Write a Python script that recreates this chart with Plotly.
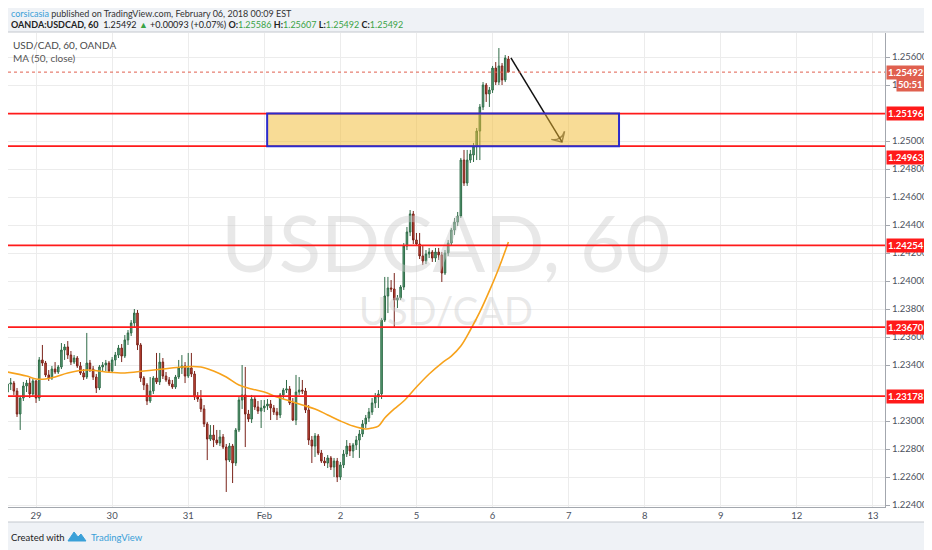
import plotly.graph_objects as go

# the page puts the plot 8px in from the top-left corner, so the figure is
# sized to fill the rest of the 932x550 window
OFF = 8
W, H = 932 - OFF, 550 - OFF
M_L, M_R, M_T, M_B = 0, 47, 25, 43
PW, PH = W - M_L - M_R, H - M_T - M_B


def paper_x(px):
    # px measured on the reference snapshot
    return (px - OFF - M_L) / PW


def paper_y(py):
    return (H - M_B - (py - OFF)) / PH


# hourly bars, counted from Jan 29 00:00 (weekend hours skipped)
bars = list(range(-9, 150))

opens = [
    1.23207, 1.23264, 1.23271, 1.23214, 1.23050, 1.23164, 1.23250, 1.23271, 1.23193, 1.23286,
    1.23164, 1.23436, 1.23414, 1.23329, 1.23307, 1.23371, 1.23350, 1.23386, 1.23507, 1.23529,
    1.23471, 1.23421, 1.23450, 1.23393, 1.23343, 1.23314, 1.23414, 1.23371, 1.23314, 1.23236,
    1.23386, 1.23400, 1.23414, 1.23357, 1.23436, 1.23471, 1.23521, 1.23464, 1.23579, 1.23629,
    1.23700, 1.23771, 1.23543, 1.23307, 1.23257, 1.23143, 1.23214, 1.23307, 1.23279, 1.23421,
    1.23321, 1.23293, 1.23264, 1.23243, 1.23314, 1.23379, 1.23393, 1.23321, 1.23379, 1.23336,
    1.23171, 1.23157, 1.23086, 1.22979, 1.22871, 1.22900, 1.22864, 1.22843, 1.22886, 1.22814,
    1.22721, 1.22821, 1.22700, 1.22936, 1.23150, 1.23186, 1.23050, 1.23014, 1.23157, 1.23100,
    1.23071, 1.23093, 1.23107, 1.23121, 1.23093, 1.23064, 1.23043, 1.23186, 1.23221, 1.23229,
    1.23129, 1.23007, 1.23207, 1.23221, 1.23214, 1.23079, 1.22864, 1.22821, 1.22893, 1.22771,
    1.22714, 1.22700, 1.22736, 1.22671, 1.22714, 1.22600, 1.22686, 1.22764, 1.22821, 1.22786,
    1.22829, 1.22864, 1.22907, 1.22979, 1.23021, 1.23064, 1.23129, 1.23171, 1.23193, 1.23721,
    1.23893, 1.23950, 1.23943, 1.23864, 1.23879, 1.23957, 1.24250, 1.24350, 1.24479, 1.24293,
    1.24264, 1.24179, 1.24143, 1.24193, 1.24207, 1.24164, 1.24207, 1.24186, 1.24057, 1.24200,
    1.24271, 1.24364, 1.24421, 1.24464, 1.24864, 1.24700, 1.24864, 1.24900, 1.24964, 1.25071,
    1.25243, 1.25400, 1.25336, 1.25364, 1.25521, 1.25421, 1.25536, 1.25436, 1.25586,
]
highs = [
    1.23314, 1.23307, 1.23286, 1.23236, 1.23179, 1.23279, 1.23293, 1.23307, 1.23300, 1.23293,
    1.23457, 1.23543, 1.23429, 1.23364, 1.23393, 1.23421, 1.23400, 1.23557, 1.23550, 1.23571,
    1.23500, 1.23471, 1.23464, 1.23421, 1.23371, 1.23629, 1.23436, 1.23393, 1.23336, 1.23400,
    1.23421, 1.23436, 1.23429, 1.23457, 1.23493, 1.23543, 1.23550, 1.23614, 1.23650, 1.23721,
    1.23800, 1.23793, 1.23557, 1.23321, 1.23271, 1.23314, 1.23321, 1.23486, 1.23486, 1.23450,
    1.23350, 1.23314, 1.23293, 1.23329, 1.23436, 1.23471, 1.23421, 1.23486, 1.23486, 1.23357,
    1.23207, 1.23221, 1.23114, 1.22993, 1.22971, 1.22971, 1.22936, 1.22936, 1.22907, 1.22836,
    1.22843, 1.22836, 1.22950, 1.23171, 1.23400, 1.23386, 1.23079, 1.23186, 1.23179, 1.23143,
    1.23150, 1.23150, 1.23157, 1.23150, 1.23114, 1.23093, 1.23200, 1.23236, 1.23293, 1.23250,
    1.23164, 1.23329, 1.23314, 1.23293, 1.23236, 1.23114, 1.22893, 1.22914, 1.22907, 1.22793,
    1.22743, 1.22757, 1.22750, 1.22736, 1.22736, 1.22707, 1.22793, 1.22864, 1.22843, 1.22843,
    1.22893, 1.22936, 1.23007, 1.23043, 1.23093, 1.23164, 1.23200, 1.23221, 1.23736, 1.24029,
    1.24029, 1.24007, 1.24057, 1.23900, 1.23971, 1.24271, 1.24386, 1.24507, 1.24500, 1.24343,
    1.24343, 1.24257, 1.24221, 1.24236, 1.24221, 1.24236, 1.24236, 1.24207, 1.24221, 1.24293,
    1.24379, 1.24450, 1.24493, 1.24879, 1.24936, 1.24936, 1.24936, 1.24986, 1.25093, 1.25264,
    1.25421, 1.25414, 1.25386, 1.25536, 1.25564, 1.25664, 1.25557, 1.25614, 1.25607,
]
lows = [
    1.23179, 1.23221, 1.23186, 1.23029, 1.22936, 1.23143, 1.23207, 1.23164, 1.23179, 1.23129,
    1.23143, 1.23393, 1.23314, 1.23286, 1.23293, 1.23336, 1.23336, 1.23371, 1.23436, 1.23443,
    1.23400, 1.23407, 1.23379, 1.23329, 1.23293, 1.23300, 1.23350, 1.23293, 1.23200, 1.23221,
    1.23350, 1.23357, 1.23343, 1.23343, 1.23393, 1.23450, 1.23421, 1.23450, 1.23543, 1.23607,
    1.23671, 1.23507, 1.23279, 1.23221, 1.23114, 1.23129, 1.23193, 1.23264, 1.23257, 1.23300,
    1.23279, 1.23250, 1.23229, 1.23229, 1.23300, 1.23336, 1.23271, 1.23307, 1.23314, 1.23150,
    1.23136, 1.23064, 1.22957, 1.22721, 1.22857, 1.22814, 1.22829, 1.22821, 1.22800, 1.22493,
    1.22707, 1.22557, 1.22679, 1.22921, 1.23086, 1.22814, 1.22993, 1.22986, 1.23079, 1.23050,
    1.22950, 1.23064, 1.23079, 1.23007, 1.23043, 1.23007, 1.23021, 1.23157, 1.23200, 1.23114,
    1.23000, 1.22971, 1.23186, 1.23193, 1.23057, 1.22829, 1.22700, 1.22743, 1.22757, 1.22700,
    1.22679, 1.22664, 1.22650, 1.22600, 1.22564, 1.22579, 1.22664, 1.22743, 1.22750, 1.22736,
    1.22793, 1.22736, 1.22886, 1.22950, 1.22993, 1.23043, 1.23093, 1.23093, 1.23157, 1.23707,
    1.23771, 1.23921, 1.23671, 1.23807, 1.23864, 1.23936, 1.24221, 1.24321, 1.24264, 1.24250,
    1.24157, 1.24114, 1.24121, 1.24164, 1.24136, 1.24136, 1.24150, 1.23993, 1.24043, 1.24179,
    1.24250, 1.24329, 1.24393, 1.24450, 1.24679, 1.24679, 1.24843, 1.24850, 1.24864, 1.24864,
    1.25221, 1.25279, 1.25243, 1.25343, 1.25400, 1.25400, 1.25400, 1.25421, 1.25492,
]
closes = [
    1.23264, 1.23271, 1.23214, 1.23050, 1.23164, 1.23250, 1.23271, 1.23193, 1.23286, 1.23164,
    1.23436, 1.23414, 1.23329, 1.23307, 1.23371, 1.23350, 1.23386, 1.23507, 1.23529, 1.23471,
    1.23421, 1.23450, 1.23393, 1.23343, 1.23314, 1.23414, 1.23371, 1.23314, 1.23236, 1.23386,
    1.23400, 1.23414, 1.23357, 1.23436, 1.23471, 1.23521, 1.23464, 1.23579, 1.23629, 1.23700,
    1.23771, 1.23543, 1.23307, 1.23257, 1.23143, 1.23214, 1.23307, 1.23279, 1.23421, 1.23321,
    1.23293, 1.23264, 1.23243, 1.23314, 1.23379, 1.23393, 1.23321, 1.23379, 1.23336, 1.23171,
    1.23157, 1.23086, 1.22979, 1.22871, 1.22900, 1.22864, 1.22843, 1.22886, 1.22814, 1.22721,
    1.22821, 1.22700, 1.22936, 1.23150, 1.23186, 1.23050, 1.23014, 1.23157, 1.23100, 1.23071,
    1.23093, 1.23107, 1.23121, 1.23093, 1.23064, 1.23043, 1.23186, 1.23221, 1.23229, 1.23129,
    1.23007, 1.23207, 1.23221, 1.23214, 1.23079, 1.22864, 1.22821, 1.22893, 1.22771, 1.22714,
    1.22700, 1.22736, 1.22671, 1.22714, 1.22600, 1.22686, 1.22764, 1.22821, 1.22786, 1.22829,
    1.22864, 1.22907, 1.22979, 1.23021, 1.23064, 1.23129, 1.23171, 1.23193, 1.23721, 1.23893,
    1.23950, 1.23943, 1.23864, 1.23879, 1.23957, 1.24250, 1.24350, 1.24479, 1.24293, 1.24264,
    1.24179, 1.24143, 1.24193, 1.24207, 1.24164, 1.24207, 1.24186, 1.24057, 1.24200, 1.24271,
    1.24364, 1.24421, 1.24464, 1.24864, 1.24700, 1.24864, 1.24907, 1.24964, 1.25071, 1.25243,
    1.25400, 1.25336, 1.25364, 1.25521, 1.25421, 1.25536, 1.25436, 1.25593, 1.25492,
]

# MA (50, close)
ma_bars = [-9, -3, 0, 3, 6, 10, 16, 22, 28, 34, 40, 46, 52, 56, 60, 64, 68, 72, 76, 80,
           84, 88, 92, 96, 100, 104, 106, 108, 110, 113, 116, 120, 124, 128, 131, 134,
           137, 140, 143, 146, 149]
ma_values = [1.23350, 1.23321, 1.23300, 1.23300, 1.23314, 1.23343, 1.23364, 1.23350, 1.23343,
             1.23357, 1.23371, 1.23386, 1.23386, 1.23357, 1.23314, 1.23257, 1.23229, 1.23207,
             1.23171, 1.23143, 1.23114, 1.23086, 1.23043, 1.23000, 1.22964, 1.22943, 1.22950,
             1.22964, 1.23021, 1.23086, 1.23143, 1.23243, 1.23336, 1.23414, 1.23464, 1.23536,
             1.23650, 1.23779, 1.23929, 1.24093, 1.24279]

day_ticks = [0, 24, 48, 72, 96, 120, 144, 168, 192, 216, 240, 264]
day_labels = ['29', '30', '31', 'Feb', '2', '5', '6', '7', '8', '9', '12', '13']
# 1.252 and 1.232 sit right under the level labels, so the chart hides them
price_ticks = [1.224, 1.226, 1.228, 1.230, 1.234, 1.236, 1.238, 1.240,
               1.242, 1.244, 1.246, 1.248, 1.250, 1.254, 1.256]

levels = [1.25196, 1.24963, 1.24254, 1.23670, 1.23178]
level_label_shift = [0, -11, 0, 0, 0]
zone_bars = [72.9, 183.9]
zone_prices = [1.24963, 1.25196]
arrow_bars = [149.8, 165.9]
arrow_prices = [1.25593, 1.24993]
last_price = 1.25492

x_range = [-8.85, 267.8]
y_range = [1.223857, 1.257714]

FONT = 'Lato, Roboto, sans-serif'
GRID = '#ececec'
AXIS = '#a3a7ae'
TEXT = '#4c525e'

fig = go.Figure()

# watermark sits under the candles
fig.add_trace(go.Scatter(
    x=[129.3, 129.3], y=[1.24207, 1.23757], mode='text',
    text=['USDCAD, 60', 'USD/CAD'],
    textfont=dict(family=FONT, size=[78, 38], color='rgba(205,205,205,0.45)'),
    hoverinfo='skip', showlegend=False))

fig.add_trace(go.Scatter(
    x=arrow_bars, y=arrow_prices, mode='lines+markers',
    line=dict(color='#111111', width=1.5),
    marker=dict(symbol='arrow-wide-open', size=[0, 11], angleref='previous',
                color='#111111', line=dict(color='#111111', width=1.5)),
    hoverinfo='skip', showlegend=False))

fig.add_trace(go.Candlestick(
    x=bars, open=opens, high=highs, low=lows, close=closes,
    increasing=dict(line=dict(color='#2f6b47', width=1), fillcolor='#5aa37a'),
    decreasing=dict(line=dict(color='#7a231a', width=1), fillcolor='#cf4a3a'),
    whiskerwidth=0, showlegend=False, name='USD/CAD'))

fig.add_trace(go.Scatter(
    x=ma_bars, y=ma_values, mode='lines', line=dict(color='#f7a21b', width=1.6, shape='spline'),
    hoverinfo='skip', showlegend=False, name='MA (50, close)'))

shapes = [
    # white chart frame
    dict(type='rect', xref='paper', yref='paper', x0=paper_x(4), x1=paper_x(926),
         y0=paper_y(522), y1=paper_y(32), fillcolor='white',
         line=dict(color='#c4c8ce', width=1), layer='below'),
    dict(type='line', xref='paper', yref='y', x0=0, x1=1, y0=last_price, y1=last_price,
         line=dict(color='#e0604f', width=1, dash='dot')),
]
for lv in levels:
    shapes.append(dict(type='line', xref='paper', yref='y', x0=0, x1=1, y0=lv, y1=lv,
                       line=dict(color='#ff1a1a', width=1.8)))
shapes.append(dict(type='rect', xref='x', yref='y', x0=zone_bars[0], x1=zone_bars[1],
                   y0=zone_prices[0], y1=zone_prices[1],
                   fillcolor='rgba(241,185,45,0.5)', line=dict(color='#2b2bcc', width=2)))

# small blue logo next to the footer
lx = [68, 74, 78, 81, 86]
ly = [541, 532, 537, 534, 541]
path = 'M ' + ' L '.join(f'{paper_x(a):.4f},{paper_y(b):.4f}' for a, b in zip(lx, ly)) + ' Z'
shapes.append(dict(type='path', xref='paper', yref='paper', path=path,
                   fillcolor='#3aa0d8', line=dict(color='#3aa0d8', width=1)))

annotations = [
    dict(x=paper_x(9), y=paper_y(14), xref='paper', yref='paper', xanchor='left', yanchor='middle',
         showarrow=False, font=dict(family=FONT, size=9, color='#333'),
         text='<span style="color:#3aa0d8">corsicasia</span> published on TradingView.com, '
              'February 06, 2018 00:09 EST'),
    dict(x=paper_x(9), y=paper_y(25), xref='paper', yref='paper', xanchor='left', yanchor='middle',
         showarrow=False, font=dict(family=FONT, size=9, color='#222'),
         text='<b>OANDA:USDCAD, 60</b>  1.25492 <span style="color:#3aa346">▲</span> +0.00093 (+0.07%) '
              '<b>O:</b><span style="color:#3aa346">1.25586</span> '
              '<b>H:</b><span style="color:#3aa346">1.25607</span> '
              '<b>L:</b><span style="color:#3aa346">1.25492</span> '
              '<b>C:</b><span style="color:#3aa346">1.25492</span>'),
    dict(x=paper_x(11), y=paper_y(45), xref='paper', yref='paper', xanchor='left', yanchor='middle',
         showarrow=False, font=dict(family=FONT, size=10, color='#4a4a4a'), text='USD/CAD, 60, OANDA'),
    dict(x=paper_x(11), y=paper_y(58), xref='paper', yref='paper', xanchor='left', yanchor='middle',
         showarrow=False, font=dict(family=FONT, size=10, color='#555'), text='MA (50, close)'),
    dict(x=paper_x(9), y=paper_y(537), xref='paper', yref='paper', xanchor='left', yanchor='middle',
         showarrow=False, font=dict(family=FONT, size=9.5, color='#222'), text='Created with'),
    dict(x=paper_x(89), y=paper_y(537), xref='paper', yref='paper', xanchor='left', yanchor='middle',
         showarrow=False, font=dict(family=FONT, size=9.5, color='#3aa0d8'), text='TradingView'),
]
for lv, shift in zip(levels, level_label_shift):
    annotations.append(dict(x=1, y=lv, xref='paper', yref='y', xanchor='left', yanchor='middle',
                            xshift=1, yshift=shift, showarrow=False, bgcolor='#ff1a1a', borderpad=1,
                            font=dict(family=FONT, size=9.5, color='white'), text=f'<b>{lv:.5f}</b>'))
annotations.append(dict(x=1, y=last_price, xref='paper', yref='y', xanchor='left', yanchor='middle',
                        xshift=1, showarrow=False, bgcolor='#e0604f', borderpad=1,
                        font=dict(family=FONT, size=9.5, color='white'), text=f'<b>{last_price:.5f}</b>'))
annotations.append(dict(x=paper_x(925), y=last_price, xref='paper', yref='y', xanchor='right',
                        yanchor='middle', yshift=-12, showarrow=False, bgcolor='#e0604f', borderpad=1,
                        font=dict(family=FONT, size=9.5, color='white'), text='<b>50:51</b>'))

fig.update_layout(
    width=W, height=H,
    margin=dict(l=M_L, r=M_R, t=M_T, b=M_B),
    paper_bgcolor='#eff2f6', plot_bgcolor='white',
    font=dict(family=FONT, size=9.5, color=TEXT),
    shapes=shapes, annotations=annotations,
    showlegend=False,
    xaxis=dict(range=x_range, tickvals=day_ticks, ticktext=day_labels, showgrid=True,
               gridcolor=GRID, zeroline=False, showline=True, linecolor=AXIS, ticks='',
               tickfont=dict(size=9.5, color=TEXT),
               rangeslider=dict(visible=False), fixedrange=True),
    yaxis=dict(range=y_range, side='right', tickvals=price_ticks, tickformat='.5f', showgrid=True,
               gridcolor=GRID, zeroline=False, showline=True, linecolor=AXIS, ticks='outside',
               ticklen=4, tickcolor=AXIS, tickfont=dict(size=9.5, color=TEXT), fixedrange=True),
)

fig.write_html('out.html')
